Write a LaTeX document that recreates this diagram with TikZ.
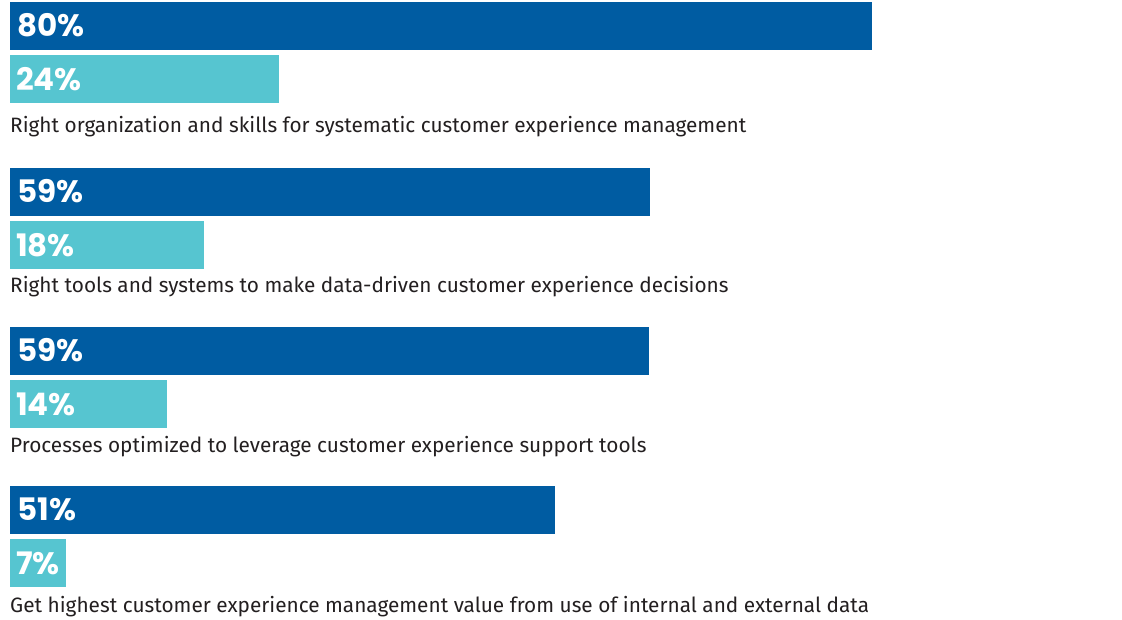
\documentclass[tikz,border=0pt]{standalone}
\usepackage{fontspec}
\setmainfont{Fira Sans}
\newfontfamily\numfont{Poppins}
\definecolor{hbrblue}{HTML}{005CA2}
\definecolor{hbrteal}{HTML}{56C5D0}
\definecolor{labelgray}{HTML}{231F20}

\begin{document}
\begin{tikzpicture}[x=1pt, y=-1pt,
  pct/.style={anchor=base west, inner sep=0pt, text=white, font=\numfont\bfseries\fontsize{31}{31}\selectfont},
  caption/.style={anchor=base west, inner sep=0pt, text=labelgray, font=\fontsize{20.8}{20.8}\selectfont}]
\useasboundingbox (0,0) rectangle (1122,619);

% top/dark end/dark value/light end/light value/caption baseline/caption
\foreach \t/\de/\dv/\le/\lv/\b/\txt [count=\i] in {
  2/872/80/279/24/132/{Right organization and skills for systematic customer experience management},
  168/650/59/204/18/292/{Right tools and systems to make data-driven customer experience decisions},
  327/649/59/167/14/452/{Processes optimized to leverage customer experience support tools},
  486/555/51/66/7/612/{Get highest customer experience management value from use of internal and external data}} {
  % all respondents (dark) and leaders (light)
  \fill[hbrblue] (10,\t) rectangle (\de,{\t+48});
  \fill[hbrteal] (10,{\t+53}) rectangle (\le,{\t+101});
  \node[pct] (dark\i) at (17,{\t+34}) {\dv\%};
  \node[pct] (light\i) at (16,{\t+88}) {\lv\%};
  \node[caption] (cap\i) at (10,\b) {\txt};
}
\end{tikzpicture}
\end{document}
